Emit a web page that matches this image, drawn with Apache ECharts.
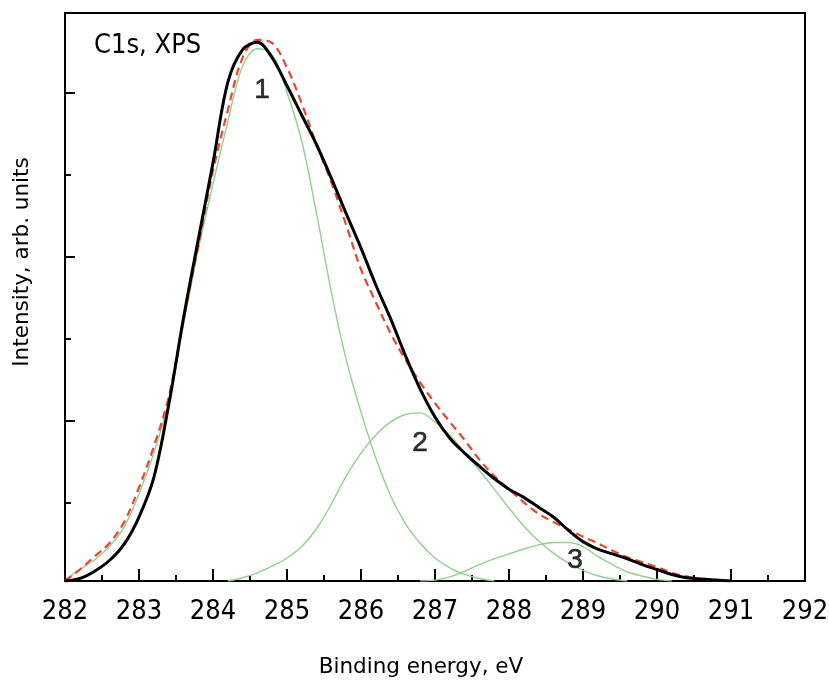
<!DOCTYPE html>
<html><head><meta charset="utf-8">
<script src="https://cdn.jsdelivr.net/npm/echarts@6/dist/echarts.min.js"></script>
<style>html,body{margin:0;padding:0;background:#fff}#c{width:829px;height:681px}</style>
</head><body><div id="c"></div>
<script>
// x tick labels (binding energy, eV)
const xTicks = [282, 283, 284, 285, 286, 287, 288, 289, 290, 291, 292];
// energies at which the curves were read (eV)
const energy = [282.0,282.2,282.4,282.6,282.8,283.0,283.2,283.4,283.6,283.8,284.0,284.2,284.4,284.6,284.8,285.0,285.2,285.4,285.6,285.8,286.0,286.2,286.4,286.6,286.8,287.0,287.2,287.4,287.6,287.8,288.0,288.2,288.4,288.6,288.8,289.0,289.2,289.4,289.6,289.8,290.0,290.2,290.4,290.6,290.8,291.0];
// measured spectrum (black)
const measured = [0,0.015,0.06,0.125,0.225,0.39,0.63,1.07,1.60,2.08,2.55,3.04,3.24,3.285,3.19,3.02,2.84,2.66,2.455,2.24,2.03,1.805,1.60,1.375,1.17,1.00,0.87,0.78,0.70,0.625,0.56,0.51,0.45,0.39,0.31,0.24,0.195,0.165,0.135,0.10,0.07,0.04,0.02,0.012,0.006,0];
// total fit envelope (red dashed)
const envelope = [0,0.07,0.15,0.23,0.36,0.57,0.82,1.12,1.59,2.04,2.50,2.87,3.19,3.30,3.28,3.13,2.91,2.66,2.43,2.17,1.90,1.70,1.51,1.35,1.21,1.085,0.97,0.86,0.74,0.64,0.56,0.48,0.41,0.36,0.315,0.27,0.23,0.185,0.145,0.115,0.085,0.05,0.028,0.012,0.004,0];
// fitted components (green)
const comp1 = [0.005,0.07,0.13,0.21,0.33,0.53,0.78,1.09,1.56,2.02,2.42,2.80,3.14,3.245,3.21,2.98,2.68,2.24,1.76,1.35,1.03,0.75,0.52,0.35,0.23,0.14,0.08,0.04,0.015,0,null,null,null,null,null,null,null,null,null,null,null,null,null,null,null,null];
const comp2 = [null,null,null,null,null,null,null,null,null,null,null,0,0.02,0.05,0.09,0.14,0.21,0.32,0.47,0.64,0.78,0.89,0.97,1.015,1.025,0.97,0.89,0.785,0.675,0.56,0.445,0.335,0.245,0.17,0.11,0.065,0.032,0.012,0,null,null,null,null,null,null,null];
const comp3 = [null,null,null,null,null,null,null,null,null,null,null,null,null,null,null,null,null,null,null,null,null,null,null,null,0,0.005,0.025,0.06,0.10,0.135,0.165,0.195,0.22,0.235,0.235,0.21,0.15,0.10,0.055,0.03,0.01,0,null,null,null,null];
// peak labels
const peakNames = ['1','2','3'];
const peakE = [284.662, 286.797, 288.892];
const peakI = [2.994, 0.841, 0.128];
// y tick positions (no labels)
const yMajor = [0.976, 1.976, 2.976];
const yMinor = [0.476, 1.476, 2.476];

const zip = (a, b) => a.map((v, i) => [v, b[i]]);
const green = '#93cf8d';
const titleFont = 'DejaVu Sans, Liberation Sans, sans-serif';

const chart = echarts.init(document.getElementById('c'), null, {renderer: 'canvas'});
const yBase = {
  type: 'value', min: 0, max: 3.4634, position: 'left',
  axisLine: {show: true, lineStyle: {color: '#000', width: 2}},
  axisLabel: {show: false}, splitLine: {show: false}
};
const lineBase = {type: 'line', smooth: 0.35, symbol: 'none', connectNulls: false};
chart.setOption({
  animation: false,
  backgroundColor: '#fff',
  grid: {left: 65, right: 24, top: 13, bottom: 100, show: true, borderColor: '#000', borderWidth: 2,
    containLabel: false, outerBoundsMode: 'none'},
  xAxis: {
    type: 'value', min: 282, max: 292, interval: 1,
    axisLine: {show: true, lineStyle: {color: '#000', width: 2}},
    axisTick: {show: true, inside: true, length: 12, lineStyle: {color: '#000', width: 2}},
    minorTick: {show: true, splitNumber: 2, length: 6, lineStyle: {color: '#000', width: 2}},
    axisLabel: {color: '#000', fontSize: 27, fontFamily: 'DejaVu Sans Condensed, sans-serif', margin: 17,
      formatter: v => xTicks.includes(v) ? String(v) : ''},
    splitLine: {show: false},
    name: 'Binding energy, eV', nameLocation: 'middle', nameGap: 75,
    nameTextStyle: {color: '#000', fontSize: 21.5, fontFamily: titleFont, padding: [0, 28, 0, 0]}
  },
  yAxis: [
    Object.assign({}, yBase, {
      axisTick: {show: true, inside: true, length: 10, customValues: yMajor, lineStyle: {color: '#000', width: 2}},
      name: 'Intensity, arb. units', nameLocation: 'middle', nameGap: 32,
      nameTextStyle: {color: '#000', fontSize: 21.5, fontFamily: titleFont, padding: [0, 0, 0, 70]}
    }),
    Object.assign({}, yBase, {
      axisTick: {show: true, inside: true, length: 6, customValues: yMinor, lineStyle: {color: '#000', width: 2}}
    })
  ],
  graphic: [{
    type: 'text', left: 94, top: 32,
    style: {text: 'C1s, XPS', fill: '#000', font: '27px "DejaVu Sans Condensed", sans-serif'}
  }],
  series: [
    Object.assign({}, lineBase, {data: zip(energy, comp1), lineStyle: {color: green, width: 1.4}, z: 2}),
    Object.assign({}, lineBase, {data: zip(energy, comp2), lineStyle: {color: green, width: 1.4}, z: 2}),
    Object.assign({}, lineBase, {data: zip(energy, comp3), lineStyle: {color: green, width: 1.4}, z: 2}),
    Object.assign({}, lineBase, {data: zip(energy, envelope), lineStyle: {color: '#e8452c', width: 2.2, type: [8, 5]}, z: 3}),
    Object.assign({}, lineBase, {data: zip(energy, measured), lineStyle: {color: '#000', width: 3}, z: 4}),
    {type: 'scatter', data: peakNames.map((n, i) => ({value: [peakE[i], peakI[i]], name: n})), symbolSize: 0, z: 5,
      label: {show: true, position: 'inside', formatter: p => p.name, color: '#000', fontSize: 28,
        fontFamily: 'Liberation Sans, Arial, sans-serif', textBorderColor: '#000', textBorderWidth: 0.6}}
  ]
});
</script></body></html>
